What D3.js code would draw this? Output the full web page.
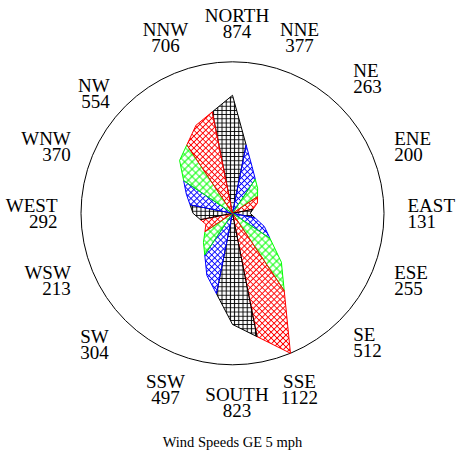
<!DOCTYPE html>
<html>
<head>
<meta charset="utf-8">
<script src="https://cdn.jsdelivr.net/npm/d3@7"></script>
<style>
  html, body { margin: 0; padding: 0; background: #fff; }
  svg { display: block; }
  text { font-family: "Liberation Serif", "Times New Roman", serif; fill: #000; }
</style>
</head>
<body>
<svg id="chart" width="457" height="457"></svg>
<script>
// Wind directions, clockwise from north, and the number of observations in each
const directions = ["NORTH", "NNE", "NE", "ENE", "EAST", "ESE", "SE", "SSE",
                    "SOUTH", "SSW", "SW", "WSW", "WEST", "WNW", "NW", "NNW"];
const counts = [874, 377, 263, 200, 131, 255, 512, 1122,
                823, 497, 304, 213, 292, 370, 554, 706];
const title = "Wind Speeds GE 5 mph";

// Fill patterns cycle through these four styles
const palette = [
  { color: "#000000", kind: "grid", size: 4.2 },
  { color: "#0000ff", kind: "cross", size: 4.2 },
  { color: "#00ff00", kind: "cross", size: 5.2 },
  { color: "#ff0000", kind: "cross", size: 4.2 }
];

const W = 457, H = 457;
const cx = 232.5, cy = 213.3, R = 151.5;
const labelR = 175;
const fontSize = 19, lineGap = 16, capH = fontSize * 0.662;

const svg = d3.select("#chart");
svg.append("rect").attr("width", W).attr("height", H).attr("fill", "#fff");

// Hatch patterns
const defs = svg.append("defs");
palette.forEach((p, k) => {
  const pat = defs.append("pattern")
    .attr("id", "hatch" + k)
    .attr("patternUnits", "userSpaceOnUse")
    .attr("width", p.size).attr("height", p.size);
  if (p.kind === "cross") pat.attr("patternTransform", "rotate(45)");
  pat.append("path")
    .attr("d", `M0,${p.size / 2}H${p.size}M${p.size / 2},0V${p.size}`)
    .attr("stroke", p.color).attr("stroke-width", 1).attr("fill", "none");
});

const n = directions.length;
const angle = d3.scaleLinear().domain([0, n]).range([0, 2 * Math.PI]);
const radius = d3.scaleLinear().domain([0, d3.max(counts)]).range([0, R]);
const half = Math.PI / n;

// Radius where the straight edge between two neighbouring tips crosses their bisector
function edgeRadius(r1, r2) {
  return (r1 + r2) === 0 ? 0 : 2 * r1 * r2 * Math.cos(half) / (r1 + r2);
}

const g = svg.append("g").attr("transform", `translate(${cx},${cy})`);

// Outer circle
g.append("circle").attr("r", R).attr("fill", "none")
  .attr("stroke", "#000").attr("stroke-width", 1);

const radial = d3.lineRadial()
  .angle(d => d[0]).radius(d => d[1])
  .curve(d3.curveLinearClosed);

const sectors = counts.map((c, i) => {
  const a = angle(i);
  const r = radius(c);
  const rPrev = radius(counts[(i - 1 + n) % n]);
  const rNext = radius(counts[(i + 1) % n]);
  return {
    i,
    pts: [[0, 0], [a - half, edgeRadius(rPrev, r)], [a, r], [a + half, edgeRadius(r, rNext)]]
  };
});

g.selectAll("path.sector").data(sectors).join("path")
  .attr("class", "sector")
  .attr("d", d => radial(d.pts))
  .attr("fill", d => `url(#hatch${d.i % palette.length})`)
  .attr("stroke", d => palette[d.i % palette.length].color)
  .attr("stroke-width", 1)
  .attr("stroke-linejoin", "miter");

// Small placement adjustments for a few crowded labels
const nudge = { NORTH: [4.5, 0], SOUTH: [4.5, 0], NE: [-3, -11], NW: [1, 4.5], SE: [-3, 5.5], SW: [0, 8] };

const labels = svg.append("g");
directions.forEach((name, i) => {
  const a = angle(i);
  const s = Math.sin(a), c = Math.cos(a);
  const ax = cx + labelR * s, ay = cy - labelR * c;
  let anchor, y1;
  if (Math.abs(s) < 0.5) {
    anchor = "middle";
    y1 = c > 0 ? ay - lineGap : ay + capH;
  } else {
    anchor = s > 0 ? "start" : "end";
    y1 = ay - (capH + lineGap) / 2 + capH;
  }
  const [dx, dy] = nudge[name] || [0, 0];
  const t = labels.append("text")
    .attr("text-anchor", anchor)
    .attr("font-size", fontSize);
  t.append("tspan").attr("x", ax + dx).attr("y", y1 + dy).text(name);
  t.append("tspan").attr("x", ax + dx).attr("y", y1 + dy + lineGap).text(counts[i]);
});

svg.append("text")
  .attr("x", cx).attr("y", 447)
  .attr("text-anchor", "middle")
  .attr("font-size", 14.5)
  .text(title);
</script>
</body>
</html>
